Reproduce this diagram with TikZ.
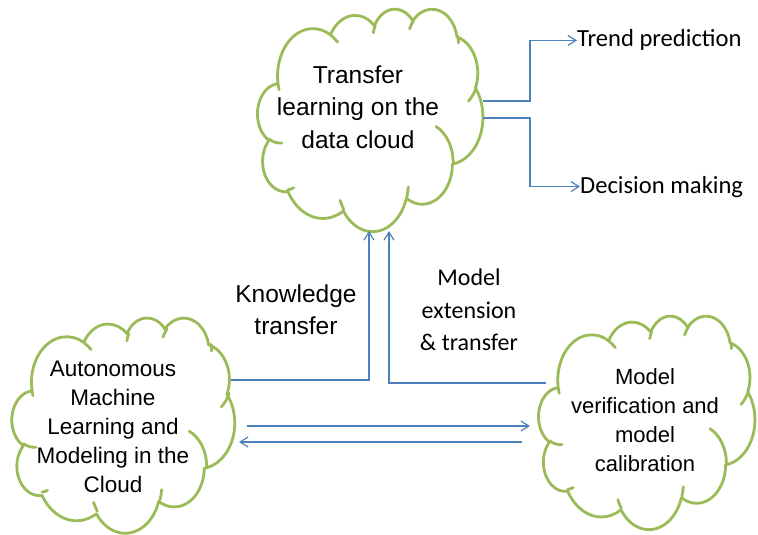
\documentclass[tikz,border=0pt]{standalone}
\usepackage{fontspec}
\setmainfont{Liberation Sans}
\newfontfamily\calib{Carlito}
\usetikzlibrary{arrows.meta}
\definecolor{cgreen}{HTML}{9BBB59}
\definecolor{cblue}{HTML}{4F81BD}
% PowerPoint-like cloud outline, arcTo converted from visual angles
\newcommand\pptarc[4]{%
  \pgfmathsetmacro\pptRX{#1/4320/10*\cw}%
  \pgfmathsetmacro\pptRY{#2/4320/10*\ch}%
  \pgfmathsetmacro\pptA{atan2(\pptRX*sin(#3),\pptRY*cos(#3))}%
  \pgfmathsetmacro\pptB{atan2(\pptRX*sin(#3+#4),\pptRY*cos(#3+#4))}%
  \pgfmathsetmacro\pptD{\pptB-\pptA}%
  \pgfmathsetmacro\pptD{(\pptD<0)?\pptD+360:\pptD}%
  \pgfmathsetmacro\pptS{0-(\pptA)}%
  \pgfmathsetmacro\pptE{0-(\pptD)}%
  \xdef\pptRX{\pptRX}\xdef\pptRY{\pptRY}\xdef\pptS{\pptS}\xdef\pptDD{\pptE}}
\newcommand\pptcloud[4]{%
  \pgfmathsetmacro\xo{#1}\pgfmathsetmacro\yo{#2}%
  \pgfmathsetmacro\cw{#3}\pgfmathsetmacro\ch{#4}%
  \draw[cloudline] ({\xo+390/4320*\cw},{\yo+1437/4320*\ch})
    \pgfextra{\pptarc{6753}{9190}{-190.4875}{123.7805}} arc[pptarc]
    \pgfextra{\pptarc{5333}{7267}{-144.1024}{89.9452}} arc[pptarc]
    \pgfextra{\pptarc{4365}{5945}{-145.8079}{99.7230}} arc[pptarc]
    \pgfextra{\pptarc{4857}{6595}{-130.9861}{117.2417}} arc[pptarc]
    \pgfextra{\pptarc{5333}{7273}{-78.7089}{109.0269}} arc[pptarc]
    \pgfextra{\pptarc{6775}{9220}{-46.2673}{130.2690}} arc[pptarc]
    \pgfextra{\pptarc{5785}{7867}{0.6250}{114.0333}} arc[pptarc]
    \pgfextra{\pptarc{6752}{9215}{22.4516}{115.1726}} arc[pptarc]
    \pgfextra{\pptarc{7720}{10543}{66.2426}{75.7110}} arc[pptarc]
    \pgfextra{\pptarc{4360}{5918}{-274.9421}{146.7356}} arc[pptarc]
    \pgfextra{\pptarc{4345}{5945}{-246.8285}{152.5189}} arc[pptarc]
    -- cycle
    ({\xo+469.3/4320*\cw},{\yo+2617.7/4320*\ch})
    \pgfextra{\pptarc{4345}{5945}{86.7420}{26.4295}} arc[pptarc]
    ({\xo+692.8/4320*\cw},{\yo+3489.9/4320*\ch})
    \pgfextra{\pptarc{4360}{5918}{73.6105}{11.4475}} arc[pptarc]
    ({\xo+1647.8/4320*\cw},{\yo+3909/4320*\ch})
    \pgfextra{\pptarc{6752}{9215}{137.6242}{14.0811}} arc[pptarc]
    ({\xo+2882.7/4320*\cw},{\yo+3475.1/4320*\ch})
    \pgfextra{\pptarc{6752}{9215}{6.4533}{15.9984}} arc[pptarc]
    ({\xo+3412.9/4320*\cw},{\yo+2295.4/4320*\ch})
    \pgfextra{\pptarc{5785}{7867}{-70.2924}{70.9174}} arc[pptarc]
    ({\xo+4179.8/4320*\cw},{\yo+1535.4/4320*\ch})
    \pgfextra{\pptarc{5333}{7273}{30.3180}{27.7515}} arc[pptarc]
    ({\xo+3832.4/4320*\cw},{\yo+542.6/4320*\ch})
    \pgfextra{\pptarc{4857}{6595}{-13.7443}{14.8589}} arc[pptarc]
    ({\xo+2907.8/4320*\cw},{\yo+395.2/4320*\ch})
    \pgfextra{\pptarc{4857}{6595}{-149.1815}{18.1954}} arc[pptarc]
    ({\xo+2214.1/4320*\cw},{\yo+472/4320*\ch})
    \pgfextra{\pptarc{4365}{5945}{-163.4943}{17.6864}} arc[pptarc]
    ({\xo+1400/4320*\cw},{\yo+519.2/4320*\ch})
    \pgfextra{\pptarc{6753}{9190}{-66.7070}{12.3194}} arc[pptarc]
    ({\xo+412.7/4320*\cw},{\yo+1578.9/4320*\ch})
    \pgfextra{\pptarc{6753}{9190}{157.6544}{11.8582}} arc[pptarc];}
\begin{document}
\begin{tikzpicture}[x=1pt,y=-1pt,
  pptarc/.style={x radius=\pptRX pt, y radius=\pptRY pt, start angle=\pptS, delta angle=\pptDD},
  cloudline/.style={draw=cgreen, line width=2.8pt, line join=round, line cap=round},
  conn/.style={draw=cblue, line width=1.2pt, -{Straight Barb[length=8pt,width=10pt]}},
  ctext/.style={align=center, inner sep=0pt}]
\useasboundingbox (0,0) rectangle (758,535);
% clouds
\pptcloud{257.5}{8.5}{226}{222}
\pptcloud{11.5}{317.5}{225}{214}
\pptcloud{538.5}{315.5}{217}{213}
% cloud texts
\node[ctext, font=\fontsize{24.5}{32.4}\selectfont] (Tt) at (358,107) {Transfer\\learning on the\\data cloud};
\node[ctext, font=\fontsize{22.5}{28.9}\selectfont] (Lt) at (113,427) {Autonomous\\Machine\\Learning and\\Modeling in the\\Cloud};
\node[ctext, font=\fontsize{22}{28.9}\selectfont] (Rt) at (645,420) {Model\\verification and\\model\\calibration};
% labels
\node[ctext, font=\fontsize{24.5}{31.7}\selectfont] (kt) at (296,310) {Knowledge\\transfer};
\node[ctext, font=\calib\fontsize{24}{32.5}\selectfont] (me) at (469,310) {Model\\extension\\\&\ transfer};
\node[inner sep=0pt, anchor=base west, font=\calib\fontsize{24.6}{29}\selectfont] (tp) at (577,47) {Trend prediction};
\node[inner sep=0pt, anchor=base west, font=\calib\fontsize{24.6}{29}\selectfont] (dm) at (580,193) {Decision making};
% connector end points
\coordinate (t1) at (483,101);
\coordinate (t2) at (483,118);
\coordinate (k0) at (231,380);
\coordinate (k1) at (369,231);
\coordinate (m0) at (546,383);
\coordinate (m1) at (389,231);
\coordinate (a0) at (247,426);
\coordinate (a1) at (530,426);
\coordinate (b0) at (522,442);
\coordinate (b1) at (239,442);
% connectors
\draw[conn] (t1) -- (530,101) |- (tp.west);
\draw[conn] (t2) -- (530,118) |- (dm.west);
\draw[conn] (k0) -| (k1);
\draw[conn] (m0) -| (m1);
\draw[conn] (a0) -- (a1);
\draw[conn] (b0) -- (b1);
\end{tikzpicture}
\end{document}
